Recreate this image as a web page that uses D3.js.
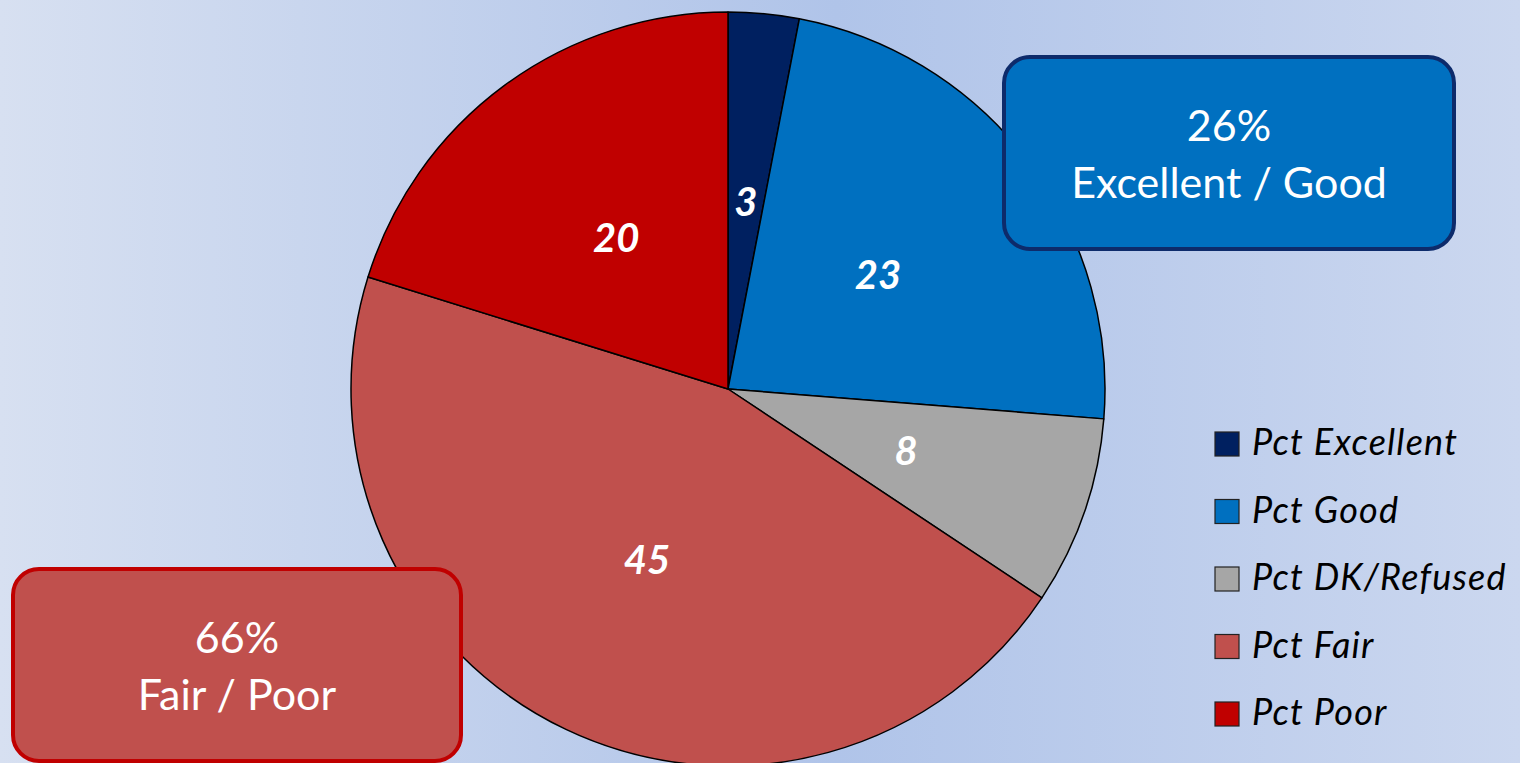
<!DOCTYPE html>
<html>
<head>
<meta charset="utf-8">
<script src="https://cdn.jsdelivr.net/npm/d3@7"></script>
<style>
  html, body { margin: 0; padding: 0; overflow: hidden; }
  svg { display: block; }
</style>
</head>
<body>
<svg id="chart" width="1520" height="763"></svg>
<script>
// Survey responses, in percent
const categories = ["Pct Excellent", "Pct Good", "Pct DK/Refused", "Pct Fair", "Pct Poor"];
const values = [3, 23, 8, 45, 20];
const colors = ["#002060", "#0070c0", "#a6a6a6", "#c0504d", "#c00000"];

// Summary callouts
const calloutPct = ["26%", "66%"];
const calloutText = ["Excellent / Good", "Fair / Poor"];

const W = 1520, H = 763;
const svg = d3.select("#chart");
const font = "Lato, 'Open Sans', sans-serif";

// Background wash
const defs = svg.append("defs");
const grad = defs.append("linearGradient").attr("id", "bg").attr("x1", "0").attr("x2", "1").attr("y1", "0").attr("y2", "0");
grad.append("stop").attr("offset", "0%").attr("stop-color", "#d7e0f1");
grad.append("stop").attr("offset", "55%").attr("stop-color", "#b0c4e9");
grad.append("stop").attr("offset", "100%").attr("stop-color", "#cbd7ef");
svg.append("rect").attr("width", W).attr("height", H).attr("fill", "url(#bg)");

// Pie
const cx = 728, cy = 389, R = 377;
const pie = d3.pie().sort(null).value(d => d);
const arcs = pie(values);
const arc = d3.arc().innerRadius(0).outerRadius(R);
const labelArc = d3.arc().innerRadius(R * 0.5).outerRadius(R * 0.5);

const g = svg.append("g").attr("transform", `translate(${cx},${cy})`);
g.selectAll("path.slice").data(arcs).join("path")
  .attr("class", "slice")
  .attr("d", arc)
  .attr("fill", (d, i) => colors[i])
  .attr("stroke", "#000")
  .attr("stroke-width", 1.5)
  .attr("stroke-linejoin", "round");

g.selectAll("text.val").data(arcs).join("text")
  .attr("class", "val")
  .attr("transform", d => `translate(${labelArc.centroid(d)})`)
  .attr("text-anchor", "middle")
  .attr("dy", "0.36em")
  .attr("fill", "#fff")
  .attr("font-family", font)
  .attr("font-weight", "bold")
  .attr("font-style", "italic")
  .attr("font-size", 40)
  .text(d => d.data);

// Callout boxes
const boxes = [
  { x: 1004, y: 57, w: 450, h: 192, fill: "#0070c0", stroke: "#0d2b6b" },
  { x: 13, y: 569, w: 448, h: 192, fill: "#c0504d", stroke: "#c00000" }
];
boxes.forEach((b, i) => {
  svg.append("rect")
    .attr("x", b.x).attr("y", b.y).attr("width", b.w).attr("height", b.h)
    .attr("rx", 26).attr("ry", 26)
    .attr("fill", b.fill).attr("stroke", b.stroke).attr("stroke-width", 4);
  const t = svg.append("text")
    .attr("text-anchor", "middle")
    .attr("fill", "#fff")
    .attr("font-family", font)
    .attr("font-size", 43);
  t.append("tspan").attr("x", b.x + b.w / 2).attr("y", b.y + 84).text(calloutPct[i]);
  t.append("tspan").attr("x", b.x + b.w / 2).attr("y", b.y + 141).text(calloutText[i]);
});

// Legend
const legend = svg.append("g").attr("transform", "translate(1215,432)");
const item = legend.selectAll("g").data(categories).join("g")
  .attr("transform", (d, i) => `translate(0,${i * 67.5})`);
item.append("rect")
  .attr("width", 24).attr("height", 24)
  .attr("fill", (d, i) => colors[i])
  .attr("stroke", "#222").attr("stroke-width", 1.2);
item.append("text")
  .attr("x", 37).attr("y", 23)
  .attr("font-family", font)
  .attr("font-style", "italic")
  .attr("font-size", 36)
  .attr("letter-spacing", 1.2)
  .attr("fill", "#000")
  .text(d => d);
</script>
</body>
</html>
